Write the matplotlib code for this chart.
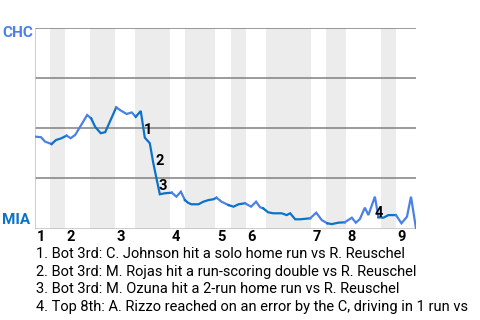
import matplotlib
matplotlib.use("Agg")
import matplotlib.pyplot as plt
import numpy as np

# win probability for CHC, by plate appearance index
event_x = [0, 1.2, 2, 3.3, 4.2, 5.3, 6.3, 7.1, 8, 8.8, 9.6, 10.4, 11.2, 12, 13.1, 14,
           16.2, 17.2, 18.3, 19.3, 20.1, 21.1, 21.9, 22.9, 23.6, 24.3, 24.9, 25.9, 27.3,
           28.2, 29.1, 29.9, 30.5, 31.2, 32.6, 33.6, 34.6, 35.6, 36.2, 37.2, 38.6, 39.6,
           40.6, 41.9, 43.1, 44.1, 44.9, 45.5, 46.5, 47.5, 49.2, 50.2, 50.9, 51.9, 52.9,
           54.9, 56.1, 57.2, 58.3, 59.2, 60.5, 61.8, 63.2, 64, 64.8, 65.8, 66.5, 67.8,
           68.5, 69.5, 70.5, 72, 73.1, 74.2, 75, 76]
win_prob = [.459, .456, .434, .422, .442, .451, .464, .451, .467, .50, .533, .567, .55, .508, .476, .481,
            .605, .588, .572, .580, .558, .587, .454, .426, .326, .242, .171, .176, .179,
            .159, .184, .142, .129, .121, .121, .134, .142, .146, .154, .134, .117, .109,
            .121, .126, .109, .134, .106, .101, .081, .076, .076, .067, .076, .046, .046,
            .051, .079, .042, .026, .022, .029, .031, .054, .029, .047, .104, .067, .159,
            .056, .054, .067, .067, .026, .059, .159, 0.0]

# half inning boundaries (PA index)
half_starts = [0, 3, 6, 11, 16, 20, 27, 30, 36, 39, 42, 46, 55, 58, 62, 69, 72, 76]
inning_labels = ["1", "2", "3", "4", "5", "6", "7", "8", "9"]

# key events
marker_labels = ["1", "2", "3", "4"]
marker_x = [22.5, 24.9, 25.5, 68.6]
marker_y = [0.492, 0.337, 0.212, 0.077]
event_text = [
    "1. Bot 3rd: C. Johnson hit a solo home run vs R. Reuschel",
    "2. Bot 3rd: M. Rojas hit a run-scoring double vs R. Reuschel",
    "3. Bot 3rd: M. Ozuna hit a 2-run home run vs R. Reuschel",
    "4. Top 8th: A. Rizzo reached on an error by the C, driving in 1 run vs",
]

chc_color = "#4a80e8"
mia_color = "#0b72c9"

plt.rcParams['font.family'] = ['Roboto', 'DejaVu Sans']

fig = plt.figure(figsize=(4.8, 3.2), dpi=100)
ax = fig.add_axes([35 / 480, 1 - 228.5 / 320, 381 / 480, 200.2 / 320])
ax.set_xlim(0, half_starts[-1])
ax.set_ylim(0, 1)
ax.axis("off")

# shaded bottom halves
for i in range(1, len(half_starts) - 1, 2):
    ax.axvspan(half_starts[i], half_starts[i + 1], color="#ececec", lw=0, zorder=0)

for y in [0.25, 0.5, 0.75, 1.0]:
    ax.axhline(y, color="#808080", lw=1.1, zorder=1)
ax.axhline(0, color="#c0c0c0", lw=1.1, zorder=1)
ax.axvline(0, color="#c0c0c0", lw=1.1, zorder=1)

# line coloured by batting team
def half_of(x):
    return int(np.searchsorted(half_starts, x, side="right")) - 1

seg_team = [half_of((event_x[i] + event_x[i + 1]) / 2) % 2 for i in range(len(event_x) - 1)]
start = 0
for i in range(1, len(seg_team) + 1):
    if i == len(seg_team) or seg_team[i] != seg_team[start]:
        col = mia_color if seg_team[start] else chc_color
        ax.plot(event_x[start:i + 1], win_prob[start:i + 1], color=col, lw=1.6,
                solid_joinstyle="miter", zorder=3)
        start = i

for lab, x, y in zip(marker_labels, marker_x, marker_y):
    ax.text(x, y, lab, fontsize=10.5, fontweight="bold", ha="center", va="center",
            color="black", zorder=4)

trans = ax.get_xaxis_transform()
for k, lab in enumerate(inning_labels):
    ax.text(half_starts[2 * k] + 0.3, -0.043, lab, transform=trans, fontsize=10.5,
            fontweight="bold", ha="left", va="center", clip_on=False)

fig.text(2 / 480, 1 - 33.3 / 320, "CHC", color=chc_color, fontsize=11,
         fontweight="bold", ha="left", va="center")
fig.text(2 / 480, 1 - 220 / 320, "MIA", color=mia_color, fontsize=11,
         fontweight="bold", ha="left", va="center")

for k, t in enumerate(event_text):
    fig.text(36 / 480, 1 - (258.3 + 17.5 * k) / 320, t, fontsize=10.5, ha="left",
             va="baseline", color="black")

fig.savefig("out.png", dpi=100)
